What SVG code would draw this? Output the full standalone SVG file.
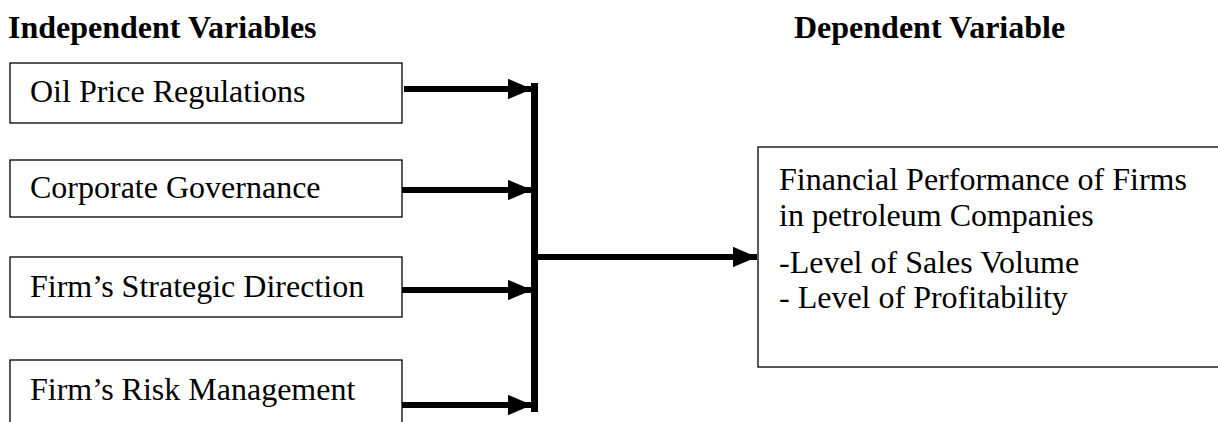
<svg xmlns="http://www.w3.org/2000/svg" width="1218" height="422" viewBox="0 0 1218 422">
<style>
.t{font-family:"Liberation Serif","Times New Roman",serif;font-size:32px;fill:#000}
.h{font-family:"Liberation Serif","Times New Roman",serif;font-size:32px;font-weight:bold;fill:#000}
.box{fill:#fff;stroke:#000;stroke-width:1.3}
.ln{stroke:#000;stroke-width:6;fill:none}
</style>
<defs>
<marker id="ah" markerWidth="4" markerHeight="3.4" refX="4" refY="1.7" orient="auto" markerUnits="strokeWidth">
<path d="M0,0 L4,1.7 L0,3.4 Z" fill="#000"/>
</marker>
</defs>
<text class="h" x="8" y="38">Independent Variables</text>
<text class="h" x="794" y="38">Dependent Variable</text>
<g id="n1"><rect class="box" x="10" y="63" width="392" height="60"/><text class="t" x="30" y="102">Oil Price Regulations</text></g>
<g id="n2"><rect class="box" x="10" y="160" width="392" height="57"/><text class="t" x="30" y="198">Corporate Governance</text></g>
<g id="n3"><rect class="box" x="10" y="257" width="392" height="60"/><text class="t" x="30" y="297">Firm’s Strategic Direction</text></g>
<g id="n4"><rect class="box" x="10" y="360" width="392" height="80"/><text class="t" x="30" y="400">Firm’s Risk Management</text></g>
<g id="n5"><rect class="box" x="758" y="147" width="480" height="220"/>
<text class="t" x="779" y="190">Financial Performance of Firms</text>
<text class="t" x="779" y="226">in petroleum Companies</text>
<text class="t" x="779" y="273">-Level of Sales Volume</text>
<text class="t" x="779" y="308">- Level of Profitability</text>
</g>
<g id="connectors">
<line class="ln" x1="404" y1="89" x2="532" y2="89" marker-end="url(#ah)"/>
<line class="ln" x1="402" y1="190" x2="532" y2="190" marker-end="url(#ah)"/>
<line class="ln" x1="402" y1="290" x2="532" y2="290" marker-end="url(#ah)"/>
<line class="ln" x1="402" y1="405" x2="532" y2="405" marker-end="url(#ah)"/>
<line x1="534.5" y1="83" x2="534.5" y2="412" stroke="#000" stroke-width="7"/>
<line class="ln" x1="538" y1="257" x2="757" y2="257" marker-end="url(#ah)"/>
</g>
</svg>
